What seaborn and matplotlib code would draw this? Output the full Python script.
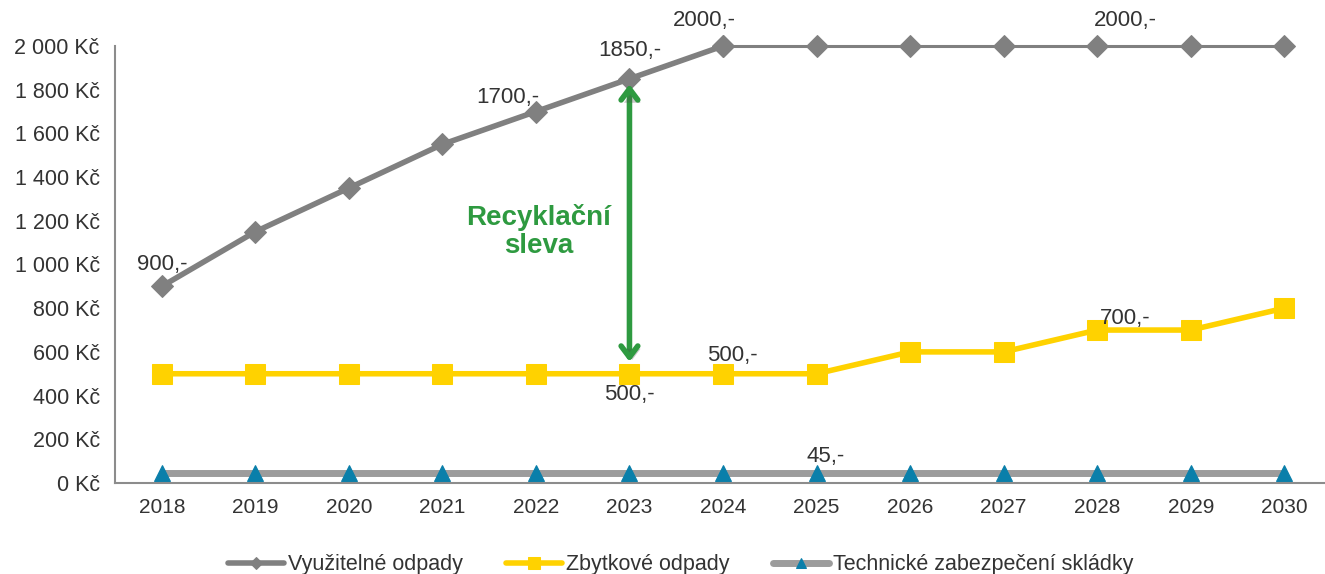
import matplotlib
matplotlib.use("Agg")
import matplotlib.pyplot as plt
import matplotlib.patheffects as pe
from matplotlib.ticker import FixedLocator, FuncFormatter
import seaborn as sns

# data
years = [2018, 2019, 2020, 2021, 2022, 2023, 2024, 2025, 2026, 2027, 2028, 2029, 2030]
vyuzitelne = [900, 1150, 1350, 1550, 1700, 1850, 2000, 2000, 2000, 2000, 2000, 2000, 2000]
zbytkove = [500, 500, 500, 500, 500, 500, 500, 500, 600, 600, 700, 700, 800]
technicke = [45, 45, 45, 45, 45, 45, 45, 45, 45, 45, 45, 45, 45]
labels = ["Využitelné odpady", "Zbytkové odpady", "Technické zabezpečení skládky"]

sns.set_style("white")
plt.rcParams['font.family'] = ['Liberation Sans', 'DejaVu Sans']

fig = plt.figure(figsize=(13.25, 5.74), dpi=100)
ax = fig.add_axes([115 / 1325, 91 / 574, 1216 / 1325, 437 / 574])

grey = "#808080"
yellow = "#FFD200"
lightgrey = "#9C9C9C"
blue = "#0A7FAA"

# technical line (drawn first, lowest)
sns.lineplot(x=years, y=technicke, ax=ax, color=lightgrey, lw=5, marker="^",
             markersize=11, markerfacecolor=blue, markeredgecolor=blue,
             label=labels[2], zorder=2)
sns.lineplot(x=years, y=zbytkove, ax=ax, color=yellow, lw=4, marker="s",
             markersize=15, markerfacecolor=yellow, markeredgecolor=yellow,
             label=labels[1], zorder=3)
# useful waste - thicker up to 2024, thinner after
sns.lineplot(x=years[:7], y=vyuzitelne[:7], ax=ax, color=grey, lw=4, marker="D",
             markersize=11, markerfacecolor=grey, markeredgecolor=grey,
             label=labels[0], zorder=4)
sns.lineplot(x=years[6:], y=vyuzitelne[6:], ax=ax, color=grey, lw=2.2, marker="D",
             markersize=11, markerfacecolor=grey, markeredgecolor=grey,
             legend=False, zorder=4)
for ln in ax.lines:
    ln.set_clip_on(False)

ax.set_xlim(2017.5, 2030.5)
ax.set_ylim(0, 2000)
ax.set_xticks(years)
ax.set_xticklabels([str(y) for y in years])
ax.xaxis.set_minor_locator(FixedLocator([y - 0.5 for y in years] + [2030.5]))
ax.set_yticks(range(0, 2001, 200))
ax.yaxis.set_major_formatter(FuncFormatter(lambda v, p: f"{int(v):,} Kč".replace(",", " ")))

for s in ["top", "right"]:
    ax.spines[s].set_visible(False)
for s in ["left", "bottom"]:
    ax.spines[s].set_color("#8C8C8C")
    ax.spines[s].set_linewidth(1.5)

ax.tick_params(axis="x", which="major", length=0, pad=11, labelsize=15, colors="#333333")
ax.tick_params(axis="x", which="minor", length=6, width=1.2, color="#8C8C8C", direction="out")
ax.tick_params(axis="y", which="major", length=6, width=1.2, color="#8C8C8C", direction="out",
               labelsize=15.5, labelcolor="#333333", pad=5)

# value labels
txt = dict(fontsize=16, color="#333333")
ax.text(2018, 950, "900,-", ha="center", va="bottom", **txt)
ax.text(2021.7, 1715, "1700,-", ha="center", va="bottom", **txt)
ax.text(2023, 1930, "1850,-", ha="center", va="bottom", **txt)
ax.text(2023.8, 2070, "2000,-", ha="center", va="bottom", **txt)
ax.text(2028.3, 2070, "2000,-", ha="center", va="bottom", **txt)
ax.text(2024.1, 535, "500,-", ha="center", va="bottom", **txt)
ax.text(2023, 455, "500,-", ha="center", va="top", **txt)
ax.text(2028.3, 705, "700,-", ha="center", va="bottom", **txt)
ax.text(2025.1, 75, "45,-", ha="center", va="bottom", **txt)

# recycling discount arrow
green = "#2E9A40"
ax.annotate("", xy=(2023, 555), xytext=(2023, 1825),
            arrowprops=dict(arrowstyle="<->,head_length=0.8,head_width=0.6", color=green, lw=4,
                            shrinkA=0, shrinkB=0,
                            path_effects=[pe.SimplePatchShadow(offset=(2, -2), alpha=0.3), pe.Normal()]),
            zorder=6)
ax.text(2022.03, 1150, "Recyklační\nsleva", ha="center", va="center", fontsize=20,
        fontweight="bold", color=green, linespacing=1.1)

handles, hlabels = ax.get_legend_handles_labels()
order = [hlabels.index(l) for l in labels]
leg = ax.legend([handles[i] for i in order], [hlabels[i] for i in order],
                loc="lower center", bbox_to_anchor=(0.5 - 0.035, -0.255), ncol=3, frameon=False,
                fontsize=15.5, handlelength=2.6, columnspacing=2.0, handletextpad=0.2,
                markerscale=0.6)
for t in leg.get_texts():
    t.set_color("#333333")

fig.savefig("out.png", dpi=100)
